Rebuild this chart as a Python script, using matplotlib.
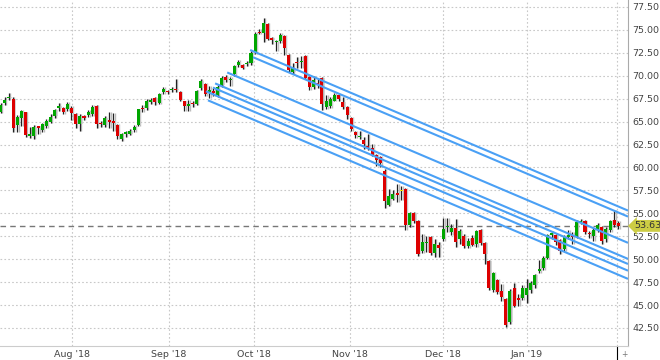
import matplotlib
matplotlib.use("Agg")
import matplotlib.pyplot as plt
import numpy as np

# OHLC per trading day
opens = [66.05, 67.0, 67.6, 67.44, 64.63, 65.43, 66.0, 63.4, 63.4, 64.4,
         64.1, 64.5, 65.0, 65.6, 66.45, 66.5, 66.4, 66.5, 65.8, 64.7,
         65.6, 65.7, 65.8, 66.7, 64.9, 64.6, 65.2, 65.1, 64.6, 63.1,
         63.6, 63.7, 64.1, 64.6, 66.5, 66.5, 67.1, 67.6, 67.0, 68.2,
         68.35, 68.4, 68.5, 68.2, 67.2, 66.7, 67.0, 66.9, 68.7, 69.1,
         68.2, 68.3, 67.9, 69.0, 69.9, 69.5, 70.2, 71.2, 71.2, 71.3,
         71.4, 72.6, 74.8, 74.7, 75.6, 74.1, 73.7, 73.8, 74.3, 72.3,
         70.4, 71.45, 71.45, 72.2, 69.9, 68.8, 69.2, 69.8, 66.6, 66.7,
         67.3, 67.9, 67.1, 66.6, 65.4, 63.9, 63.35, 63.0, 62.3, 62.1,
         61.4, 61.1, 59.6, 55.9, 56.6, 57.15, 57.4, 57.6, 53.7, 55.0,
         54.2, 50.9, 51.8, 52.4, 50.7, 51.55, 52.2, 53.5, 53.0, 53.4,
         52.2, 52.5, 51.4, 52.3, 51.7, 53.2, 51.8, 49.85, 46.6, 47.7,
         46.5, 45.7, 43.1, 46.9, 45.8, 45.8, 46.1, 46.65, 47.2, 48.7,
         49.0, 50.1, 52.6, 52.6, 52.1, 51.1, 52.4, 52.6, 52.5, 54.0,
         54.2, 52.9, 52.5, 53.2, 53.5, 52.2, 53.2, 54.3, 54.0]
highs = [67.0, 67.7, 68.1, 67.7, 65.7, 66.3, 66.1, 64.4, 64.6, 64.5,
         64.9, 65.3, 65.8, 66.4, 67.0, 66.6, 67.1, 66.7, 65.9, 65.8,
         65.7, 66.3, 66.8, 66.8, 65.1, 65.6, 66.0, 65.9, 64.7, 63.8,
         64.0, 64.2, 64.6, 66.4, 66.8, 67.5, 67.6, 67.7, 68.1, 68.8,
         68.5, 68.8, 69.7, 68.3, 67.3, 67.4, 67.2, 68.4, 69.6, 69.2,
         68.9, 68.7, 69.0, 70.0, 70.1, 69.9, 71.2, 71.7, 71.3, 71.6,
         72.7, 74.8, 75.1, 76.3, 75.7, 74.2, 73.9, 74.7, 74.4, 72.4,
         71.4, 72.0, 72.2, 72.3, 70.0, 70.0, 69.8, 69.9, 67.9, 67.7,
         68.1, 68.0, 67.7, 66.7, 65.5, 64.0, 64.0, 63.3, 63.7, 62.6,
         61.5, 61.2, 59.8, 57.6, 57.5, 58.2, 58.0, 57.8, 55.2, 55.1,
         54.3, 52.8, 52.5, 52.5, 52.2, 51.9, 54.5, 54.5, 53.8, 54.4,
         53.3, 52.8, 52.3, 52.6, 53.2, 53.3, 51.9, 49.9, 48.6, 47.8,
         47.3, 45.8, 46.8, 47.4, 46.2, 47.2, 47.8, 47.6, 48.4, 49.9,
         50.3, 52.8, 53.1, 52.7, 52.2, 52.6, 53.2, 53.0, 54.3, 54.4,
         54.3, 53.1, 53.4, 54.0, 53.6, 53.5, 54.3, 55.4, 54.2]
lows = [65.9, 66.8, 67.4, 63.9, 63.9, 64.5, 63.3, 63.2, 63.1, 63.6,
        63.9, 64.3, 64.8, 65.4, 66.2, 65.8, 66.2, 65.2, 64.3, 64.0,
        65.2, 65.5, 65.6, 64.3, 64.4, 64.4, 64.3, 64.0, 63.1, 62.9,
        63.3, 63.5, 63.9, 64.5, 66.0, 66.3, 66.9, 66.8, 66.9, 68.0,
        68.0, 68.2, 68.2, 67.2, 66.2, 66.2, 66.6, 66.8, 68.5, 67.8,
        67.6, 67.8, 67.7, 68.8, 69.3, 68.9, 70.0, 71.0, 70.7, 71.1,
        71.2, 72.4, 74.5, 73.7, 73.9, 73.5, 72.7, 73.6, 72.3, 70.4,
        70.2, 70.8, 70.9, 69.7, 68.5, 68.6, 68.7, 66.3, 66.4, 66.5,
        67.2, 67.3, 66.4, 65.3, 64.0, 63.2, 63.1, 62.0, 61.9, 61.3,
        60.2, 60.0, 55.6, 55.8, 56.4, 56.2, 56.5, 53.2, 53.5, 54.0,
        50.3, 50.7, 50.8, 50.5, 50.2, 50.2, 52.0, 53.0, 52.6, 51.3,
        51.7, 51.2, 51.2, 51.4, 51.3, 51.6, 49.5, 46.6, 46.4, 46.2,
        45.4, 42.6, 42.9, 44.8, 44.9, 45.5, 45.2, 46.3, 46.9, 48.5,
        48.8, 50.0, 52.2, 51.6, 50.6, 50.9, 52.2, 51.7, 52.3, 53.8,
        52.8, 52.3, 52.0, 53.0, 51.7, 51.9, 53.0, 53.5, 53.3]
closes = [66.8, 67.4, 67.7, 64.27, 65.54, 66.17, 63.5, 63.7, 64.4, 64.35,
          64.7, 65.1, 65.5, 66.3, 66.7, 66.0, 66.9, 65.9, 64.7, 65.6,
          65.4, 66.0, 66.6, 64.7, 64.7, 65.4, 65.0, 64.9, 63.4, 63.6,
          63.9, 64.0, 64.4, 66.35, 66.4, 67.2, 67.4, 67.1, 68.0, 68.6,
          68.2, 68.55, 68.4, 67.4, 66.7, 66.9, 66.95, 68.3, 69.4, 68.0,
          68.5, 68.1, 68.8, 69.8, 69.5, 69.65, 71.1, 71.5, 70.9, 71.4,
          72.5, 74.6, 74.7, 75.8, 74.0, 73.9, 73.8, 74.45, 73.0, 70.6,
          70.9, 71.35, 71.6, 69.8, 68.8, 69.5, 69.0, 66.9, 67.2, 67.5,
          67.9, 67.5, 66.6, 65.7, 64.2, 63.5, 63.45, 62.6, 62.15, 61.4,
          60.8, 60.5, 56.3, 56.9, 57.1, 57.05, 57.4, 53.7, 55.0, 54.2,
          50.6, 51.9, 51.9, 50.7, 51.7, 51.25, 53.3, 53.6, 53.4, 51.9,
          53.1, 51.4, 52.0, 51.55, 53.1, 51.8, 50.6, 46.9, 48.5, 46.45,
          45.9, 42.8, 46.5, 44.9, 45.6, 46.9, 46.9, 47.4, 48.3, 48.9,
          50.1, 52.6, 52.9, 51.9, 50.9, 52.4, 52.6, 52.4, 54.1, 54.2,
          53.0, 52.7, 53.2, 53.7, 52.0, 53.3, 54.2, 53.7, 53.63]

month_labels = ["Aug '18", "Sep '18", "Oct '18", "Nov '18", "Dec '18", "Jan '19"]
month_pos = [17.1, 40.3, 60.7, 83.8, 105.9, 126.1]
last_price = 53.63

# parallel trend lines: start bar, start price, common slope per bar
trend_start = [59.8, 60.5, 54.3, 51.4, 50.9, 49.2, 49.7]
trend_price = [72.81, 72.02, 70.36, 69.17, 68.71, 68.31, 67.32]
trend_slope = -0.1935

x_lo, x_hi = -0.12, 150.3
y_lo, y_hi = 40.54, 78.26

o = np.array(opens)
h = np.array(highs)
l = np.array(lows)
c = np.array(closes)
idx = np.arange(len(o))

fig = plt.figure(figsize=(6.6, 3.6), dpi=100)
ax = fig.add_axes([0.0, 0.039, 628 / 660, 0.961])

# grid
ax.set_yticks(np.arange(42.5, 77.6, 2.5))
ax.set_xticks(month_pos + [147.7])
ax.set_xticklabels(month_labels + [""])
ax.grid(True, color="#c8c8c8", linestyle=(0, (1.5, 2)), linewidth=0.8)
ax.set_axisbelow(True)

# candles
bull = c >= o
body_col = np.where(bull, "#00a600", "#dd0000")
body_col[96] = "#f2e200"
bottom = np.minimum(o, c)
height = np.maximum(np.abs(c - o), 0.12)

ax.vlines(idx + 0.35, l, h, color="#bdbdbd", linewidth=1.0, zorder=2)
ax.bar(idx + 0.3, height, bottom=bottom, width=0.72, color="#cfcfcf", alpha=0.8, zorder=2)
ax.vlines(idx, l, h, color="#222222", linewidth=0.9, zorder=3)
ax.bar(idx, height, bottom=bottom, width=0.72, color=body_col, zorder=4)

# trend lines
for xs, ps in zip(trend_start, trend_price):
    ax.plot([xs, x_hi], [ps, ps + trend_slope * (x_hi - xs)], color="#4aa0f5",
            linewidth=1.5, zorder=5, solid_capstyle="butt")

# last price line + label
ax.axhline(last_price, color="#777777", linestyle=(0, (4, 3)), linewidth=1.0, zorder=1)
ax.annotate(f"{last_price:.2f}", xy=(1.0, last_price), xycoords=("axes fraction", "data"),
            xytext=(4.5, 0), textcoords="offset points", va="center", ha="left",
            fontsize=6.8, color="#333333",
            bbox=dict(boxstyle="larrow,pad=0.15", fc="#cccc44", ec="none"),
            annotation_clip=False)

ax.set_xlim(x_lo, x_hi)
ax.set_ylim(y_lo, y_hi)

ax.yaxis.tick_right()
ax.yaxis.set_major_formatter(matplotlib.ticker.FormatStrFormatter("%.2f"))
ax.tick_params(axis="y", length=0, pad=3, labelsize=6.8, labelcolor="#444444")
ax.tick_params(axis="x", length=0, pad=3, labelsize=6.8, labelcolor="#444444")

# small marker below the last bar
last_tick = ax.xaxis.get_major_ticks()[-1]
last_tick.tick1line.set_markersize(10)
last_tick.tick1line.set_color("#999999")
ax.text(1.0, -0.012, "+", transform=ax.transAxes, ha="right", va="top",
        fontsize=5.5, color="#777777")

for side in ["top", "left"]:
    ax.spines[side].set_visible(False)
ax.spines["right"].set_color("#aaaaaa")
ax.spines["bottom"].set_color("#cccccc")

fig.savefig("out.png", dpi=100)
